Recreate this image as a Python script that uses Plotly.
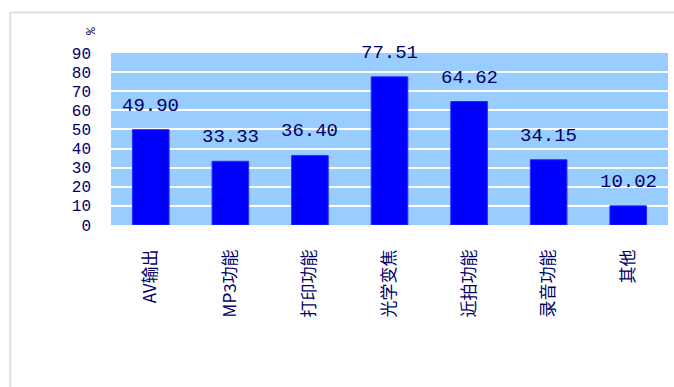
import plotly.graph_objects as go

# Feature adoption shares (%)
categories = ["AV输出", "MP3功能", "打印功能", "光学变焦", "近拍功能", "录音功能", "其他"]
values = [49.90, 33.33, 36.40, 77.51, 64.62, 34.15, 10.02]
value_labels = ["49.90", "33.33", "36.40", "77.51", "64.62", "34.15", "10.02"]
y_ticks = [0, 10, 20, 30, 40, 50, 60, 70, 80, 90]

TEXT = "#000066"
MONO = "Liberation Mono, DejaVu Sans Mono, monospace"
CJK = "Noto Sans CJK SC, Liberation Mono, sans-serif"

fig = go.Figure(
    go.Bar(
        x=categories,
        y=values,
        width=0.46,
        marker=dict(color="#0000FF", line=dict(color="#2a2aff", width=1)),
        hoverinfo="x+y",
    )
)

# value labels sitting above each bar
for cat, val, lab in zip(categories, values, value_labels):
    fig.add_annotation(
        x=cat, y=val, text=lab, showarrow=False,
        yanchor="bottom", yshift=11,
        font=dict(family=MONO, size=19, color=TEXT),
    )

# unit marker above the value axis
fig.add_annotation(
    xref="paper", yref="paper", x=-0.052, y=1.16, text="%",
    showarrow=False, textangle=-90,
    font=dict(family=MONO, size=13, color=TEXT),
)

# light outer frame
fig.add_shape(
    type="rect", xref="paper", yref="paper",
    x0=-0.181, y0=-1.0, x1=1.02, y1=1.235,
    line=dict(color="#d8d8d8", width=1.5), fillcolor="rgba(0,0,0,0)",
    layer="below",
)

fig.update_layout(
    width=674, height=387,
    margin=dict(l=111, r=6, t=53, b=162),
    paper_bgcolor="white",
    plot_bgcolor="#99CCFF",
    showlegend=False,
    xaxis=dict(
        tickangle=-90,
        tickfont=dict(family=CJK, size=17, color=TEXT),
        showgrid=False, zeroline=False, showline=False,
        ticks="", ticklabelstandoff=20,
    ),
    yaxis=dict(
        range=[0, 90],
        tickvals=y_ticks,
        ticktext=[str(v) for v in y_ticks],
        tickfont=dict(family=MONO, size=16, color=TEXT),
        showgrid=True, gridcolor="white", gridwidth=2,
        zeroline=False, showline=False, ticks="",
        ticklabelstandoff=19,
    ),
)

fig.write_html("out.html")
